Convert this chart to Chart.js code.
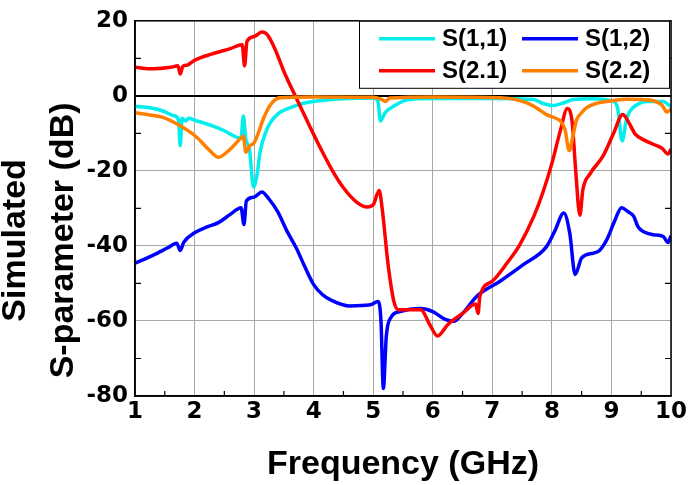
<!DOCTYPE html>
<html><head><meta charset="utf-8">
<script src="https://cdn.jsdelivr.net/npm/chart.js@4.4.1/dist/chart.umd.min.js"></script>
<style>html,body{margin:0;padding:0;background:#fff;}</style>
</head><body>
<canvas id="c" width="690" height="485"></canvas>
<script>
// ---- data ----
const seriesLabels = ['S(1,1)', 'S(1,2)', 'S(2.1)', 'S(2.2)'];
const seriesColors = ['#00eeee', '#0000ff', '#ff0000', '#ff8000'];
const xTicks = [1,2,3,4,5,6,7,8,9,10];
const yTicks = [-80,-60,-40,-20,0,20];
const xTitle = 'Frequency (GHz)';
const yTitle = ['Simulated', 'S-parameter (dB)'];

const s11Freq = [1.0,1.25,1.48,1.65,1.73,1.76,1.79,1.85,1.9,2.0,2.3,2.5,2.7,2.78,2.82,2.86,2.92,2.99,3.05,3.1,3.2,3.27,3.4,3.6,3.8,3.99,4.5,5.0,5.08,5.12,5.2,5.34,5.56,6.0,7.0,7.69,7.85,8.02,8.19,8.36,8.7,9.0,9.1,9.18,9.25,9.31,9.45,9.59,9.87,9.95,10.0];
const s11Vals = [-2.8,-3.2,-4.1,-5.3,-6.3,-13.3,-6.0,-6.7,-6.0,-6.5,-8.0,-9.3,-11.0,-11.2,-5.4,-11.6,-14,-24.3,-21,-15,-9.5,-7.2,-4.8,-3.2,-2.1,-1.5,-0.8,-0.6,-1.5,-6.7,-4.5,-2.8,-1.1,-0.7,-0.7,-1.0,-2.0,-2.6,-1.9,-1.0,-0.8,-1.3,-3,-12,-6.5,-4.1,-2.2,-1.5,-1.5,-2.3,-2.8];

const s12Freq = [1.0,1.3,1.55,1.7,1.76,1.82,2.0,2.2,2.4,2.6,2.78,2.83,2.87,3.0,3.13,3.25,3.4,3.55,3.71,3.85,4.0,4.15,4.3,4.6,4.95,5.08,5.13,5.17,5.22,5.3,5.45,5.79,6.0,6.2,6.35,6.5,6.74,7.13,7.52,7.91,8.05,8.2,8.3,8.39,8.5,8.7,8.8,8.92,9.05,9.17,9.28,9.37,9.45,9.54,9.7,9.87,9.95,10.0];
const s12Vals = [-44.6,-42.5,-40.5,-39.3,-41.2,-39.0,-36.5,-35,-33.8,-31.6,-29.8,-34.3,-28.0,-27,-25.6,-27.5,-31,-36,-40.6,-45.5,-50.3,-53,-54.5,-56,-55.7,-54.8,-60,-78,-64,-59,-57.5,-56.7,-57.5,-59.5,-60.1,-58,-53.4,-49.4,-45,-40.2,-36,-31.2,-36.6,-47.6,-43.2,-41.9,-41.2,-38.4,-33.5,-29.8,-30.9,-32,-35,-36.2,-37,-37.5,-39.1,-37.3];

const s21Freq = [1.0,1.3,1.6,1.72,1.76,1.8,1.88,2.0,2.3,2.6,2.8,2.84,2.88,3.0,3.13,3.22,3.35,3.5,3.69,3.9,4.1,4.3,4.5,4.72,4.9,5.0,5.1,5.15,5.25,5.35,5.42,5.8,5.95,6.08,6.25,6.5,6.72,6.76,6.79,7.0,7.25,7.46,7.7,7.85,8.0,8.14,8.26,8.34,8.4,8.47,8.52,8.64,8.86,9.03,9.19,9.28,9.4,9.55,9.7,9.85,9.95,10.0];
const s21Vals = [7.6,7.2,7.6,8.0,5.8,7.8,8.2,9.5,11.2,12.6,13.6,8.0,14.5,15.8,17.0,16.3,12.5,6.5,0,-7,-13.5,-19.5,-24.5,-28.3,-29.6,-29,-25.2,-30,-45,-55,-57,-57,-61,-64,-61,-58,-55.5,-58,-53.5,-49.4,-44.5,-39.7,-32,-25.7,-18,-9.4,-3.4,-7,-20,-31.8,-25,-20.8,-16,-10.2,-5,-6.8,-10.2,-11.8,-12.9,-14,-15.5,-14.2];

const s22Freq = [1.0,1.25,1.48,1.76,2.04,2.25,2.4,2.6,2.79,2.82,2.86,2.93,3.0,3.08,3.15,3.25,3.32,3.43,4.0,5.0,5.15,5.2,5.28,6.0,7.13,7.4,7.58,7.75,7.91,8.05,8.14,8.22,8.29,8.35,8.41,8.5,8.58,8.75,8.92,9.25,9.5,9.7,9.85,9.93,10.0];
const s22Vals = [-4.5,-5.1,-5.8,-8.0,-11.1,-14.5,-16.4,-14.2,-11.1,-10.8,-15,-13.3,-12.5,-9.5,-6.3,-3,-1.5,-0.5,-0.3,-0.4,-1.0,-1.5,-0.6,-0.3,-0.5,-1.0,-1.9,-3.3,-5.0,-5.9,-6.7,-9,-14.6,-11,-6.6,-4.5,-3.2,-2.0,-1.5,-0.9,-1.0,-1.3,-2.5,-4.3,-3.5];

function pts(f, v) { return f.map((x, i) => ({ x: x, y: v[i] })); }

const freqs = [s11Freq, s12Freq, s21Freq, s22Freq];
const vals = [s11Vals, s12Vals, s21Vals, s22Vals];
const drawOrder = [4, 3, 2, 1];

const datasets = seriesLabels.map((lab, i) => ({
  label: lab,
  data: pts(freqs[i], vals[i]),
  borderColor: seriesColors[i],
  backgroundColor: seriesColors[i],
  borderWidth: 3.5,
  pointRadius: 0,
  fill: false,
  cubicInterpolationMode: 'monotone',
  order: drawOrder[i]
}));

const tickFont = { family: 'DejaVu Sans', weight: 'bold', size: 23 };
const titleFontStr = 'bold 34px "Liberation Sans", Arial, sans-serif';

const decorPlugin = {
  id: 'decor',
  afterDatasetsDraw(chart) {
    const ctx = chart.ctx;
    const a = chart.chartArea;
    const xs = chart.scales.x, ys = chart.scales.y;
    ctx.save();
    // inner ticks
    ctx.strokeStyle = '#000';
    ctx.lineWidth = 1.2;
    ctx.beginPath();
    for (let v = 1.5; v < 10; v += 1) {
      const px = xs.getPixelForValue(v);
      ctx.moveTo(px, a.bottom); ctx.lineTo(px, a.bottom - 5);
    }
    for (let v = -70; v < 20; v += 20) {
      const py = ys.getPixelForValue(v);
      ctx.moveTo(a.left, py); ctx.lineTo(a.left + 6, py);
      ctx.moveTo(a.right, py); ctx.lineTo(a.right - 6, py);
    }
    ctx.stroke();
    // frame
    ctx.lineWidth = 1.5;
    ctx.strokeRect(a.left, a.top, a.right - a.left, a.bottom - a.top);

    // legend box
    const bx = a.right - 312, by = a.top, bw = 310, bh = 67;
    ctx.fillStyle = '#fff';
    ctx.fillRect(bx, by, bw, bh);
    ctx.lineWidth = 1;
    ctx.strokeRect(bx + 0.5, by + 0.5, bw, bh);
    const rows = [by + 18, by + 50];
    const cols = [bx + 20, bx + 163];
    ctx.font = 'bold 24px "Liberation Sans", Arial, sans-serif';
    ctx.textBaseline = 'middle';
    ctx.textAlign = 'left';
    chart.data.datasets.forEach((ds, i) => {
      const cx = cols[i % 2], cy = rows[Math.floor(i / 2)];
      ctx.strokeStyle = ds.borderColor;
      ctx.lineWidth = 3.5;
      ctx.beginPath();
      ctx.moveTo(cx, cy); ctx.lineTo(cx + 56, cy);
      ctx.stroke();
      ctx.fillStyle = '#000';
      ctx.fillText(ds.label, cx + 63, cy + 1);
    });

    // y-axis title (two lines, rotated)
    const yc = (a.top + a.bottom) / 2 + 32;
    ctx.font = titleFontStr;
    ctx.fillStyle = '#000';
    ctx.textAlign = 'center';
    ctx.textBaseline = 'middle';
    const lineX = [16, 64];
    yTitle.forEach((t, i) => {
      ctx.save();
      ctx.translate(lineX[i], yc);
      ctx.rotate(-Math.PI / 2);
      ctx.fillText(t, 0, 0);
      ctx.restore();
    });
    ctx.restore();
  }
};

new Chart(document.getElementById('c'), {
  type: 'line',
  data: { datasets: datasets },
  options: {
    responsive: false,
    animation: false,
    layout: { padding: { left: 0, right: 19, top: 17, bottom: 0 } },
    plugins: { legend: { display: false }, tooltip: { enabled: false } },
    scales: {
      x: {
        type: 'linear', min: xTicks[0], max: xTicks[xTicks.length - 1],
        afterBuildTicks(s) { s.ticks = xTicks.map(v => ({ value: v })); },
        ticks: { font: tickFont, color: '#000', padding: 2, maxRotation: 0, autoSkip: false },
        grid: { color: '#a8a8a8', lineWidth: 1, drawTicks: false },
        border: { display: true, color: '#000', width: 1.5 },
        title: { display: true, text: xTitle, color: '#000',
                 font: { family: 'Liberation Sans', weight: 'bold', size: 34 },
                 padding: { top: 0, bottom: 0 } },
        afterFit(s) { s.height = 89; }
      },
      y: {
        type: 'linear', min: yTicks[0], max: yTicks[yTicks.length - 1],
        afterBuildTicks(s) { s.ticks = yTicks.map(v => ({ value: v })); },
        ticks: { font: tickFont, color: '#000', padding: 7, autoSkip: false },
        grid: {
          color: c => (c.tick && c.tick.value === 0) ? '#000' : '#a8a8a8',
          lineWidth: c => (c.tick && c.tick.value === 0) ? 2 : 1,
          drawTicks: false
        },
        border: { display: true, color: '#000', width: 1.5 },
        afterFit(s) { s.width = 135; }
      }
    }
  },
  plugins: [decorPlugin]
});
</script>
</body></html>
